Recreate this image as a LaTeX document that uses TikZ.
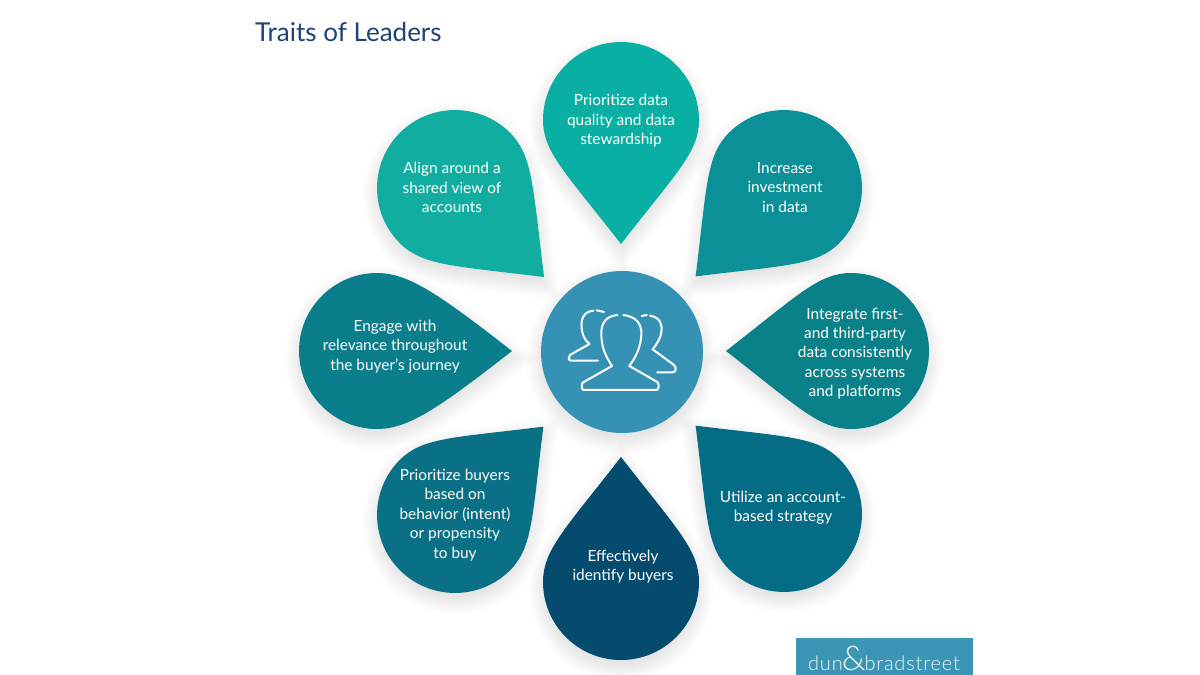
\documentclass[tikz,border=0pt]{standalone}
\usepackage{fontspec}
\setmainfont{Lato}
\newfontfamily\logofont[LetterSpace=4]{Lato Light}
\definecolor{titleblue}{HTML}{1F4177}
\definecolor{hubblue}{HTML}{3592B5}
\definecolor{logoblue}{HTML}{3B96B6}
\newcommand{\petalpath}[1]{(-78,0) .. controls (-78,-43) and (-43,-78) .. (0,-78) .. controls (43,-78) and (78,-43) .. (78,0) .. controls (78,32) and (56,#1-72) .. (0,#1) .. controls (-56,#1-72) and (-78,32) .. cycle}
\tikzset{
 petaltext/.style={text=white,align=center,font=\fontsize{15.4}{19.4}\selectfont,inner sep=0pt},
 iconline/.style={draw=white,line width=2pt,line join=round,line cap=round},
}
\begin{document}
\begin{tikzpicture}[x=1pt,y=-1pt]
\useasboundingbox (0,0) rectangle (1200,675);
\def\petals{621/120/0/124/0AAFA4, 455/188/45/126/12ADA1, 784/188/-45/125/0A9096, 377/351/90/135/0A7E8B, 851/351/-90/125/0A8089, 455/515/135/125/0A7086, 784/514/-135/125/056C85, 621/582/180/125/044B6E}
% soft shadows
\foreach \cx/\cy/\ang/\dd/\ca in \petals {
  \begin{scope}[shift={(\cx,\cy+7)},rotate=\ang]
    \foreach \s in {0.94,0.97,...,1.2} {
      \begin{scope}[scale=\s]
        \fill[black,opacity=0.012] \petalpath{\dd};
      \end{scope}
    }
  \end{scope}
}
\foreach \s in {0.94,0.97,...,1.2} {
  \fill[black,opacity=0.012] (622,359) circle[radius=81*\s];
}
% petals
\foreach \cx/\cy/\ang/\dd/\ca in \petals {
  \definecolor{pa}{HTML}{\ca}
  \begin{scope}[shift={(\cx,\cy)},rotate=\ang]
    \fill[pa] \petalpath{\dd};
  \end{scope}
}
% hub
\node[circle,fill=hubblue,minimum size=162pt,inner sep=0pt] (hub) at (622,352) {};
% icon (front and two back figures)
\begin{scope}[shift={(530,260)},x=0.3333pt,y=-0.3333pt]
  \draw[iconline] (262,165) .. controls (228,168) and (212,190) .. (214,225) .. controls (215,265) and (228,290) .. (246,318) -- (158,368) .. controls (154,372) and (154,388) .. (160,390) -- (380,390) .. controls (388,388) and (388,372) .. (382,366) -- (298,318) .. controls (318,290) and (332,262) .. (334,225) .. controls (336,190) and (318,170) .. (280,165);
  \draw[iconline] (190,152) .. controls (160,155) and (152,178) .. (155,205) .. controls (157,222) and (162,238) .. (178,252) -- (120,285) .. controls (114,290) and (114,302) .. (124,302) -- (204,302);
  \draw[iconline] (200,151) -- (222,156);
  \draw[iconline] (335,168) -- (350,165);
  \draw[iconline] (360,167) .. controls (388,172) and (398,190) .. (394,215) .. controls (392,235) and (382,250) .. (368,268) -- (432,315) .. controls (440,322) and (438,337) .. (428,337) -- (382,337);
\end{scope}
% labels
\node[petaltext] (n1) at (621,121) {Prioritize data\\quality and data\\stewardship};
\node[petaltext] (n2) at (452,187.5) {Align around a\\shared view of\\accounts};
\node[petaltext] (n3) at (785,187.5) {Increase\\investment\\in data};
\node[petaltext] (n4) at (395,346.5) {Engage with\\relevance throughout\\the buyer's journey};
\node[petaltext] (n5) at (855,353.5) {Integrate first-\\and third-party\\data consistently\\across systems\\and platforms};
\node[petaltext] (n6) at (455,515) {Prioritize buyers\\based on\\behavior (intent)\\or propensity\\to buy};
\node[petaltext] (n7) at (783,507.5) {Utilize an account-\\based strategy};
\node[petaltext] (n8) at (623,566.5) {Effectively\\identify buyers};
\node[anchor=west,text=titleblue,font=\fontsize{26}{30}\selectfont,inner sep=0pt] (title) at (255,32) {Traits of Leaders};
% logo
\node[fill=logoblue,minimum width=177pt,minimum height=37pt,inner sep=0pt,anchor=north west] (logo) at (796,638) {};
\node[text=white!92!logoblue,font=\logofont\fontsize{20}{24}\selectfont,inner sep=0pt] (logotext) at (884,658) {dun\kern-1pt{\fontsize{34}{34}\selectfont\&}\kern-1pt bradstreet};
\end{tikzpicture}
\end{document}
